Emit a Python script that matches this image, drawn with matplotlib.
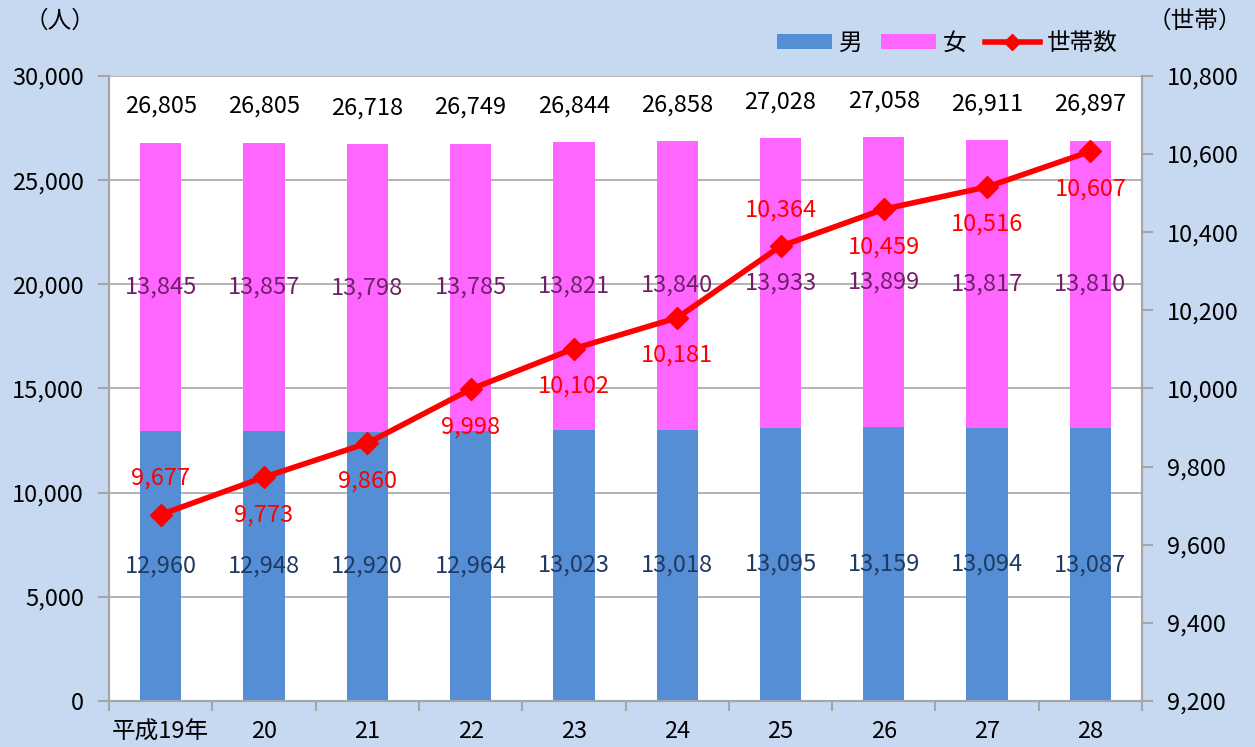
import matplotlib
matplotlib.use("Agg")
import matplotlib.pyplot as plt
from matplotlib.patches import Patch
from matplotlib.lines import Line2D
import numpy as np

plt.rcParams['font.family'] = ['Noto Sans CJK JP', 'DejaVu Sans']

years = ['平成19年', '20', '21', '22', '23', '24', '25', '26', '27', '28']
male = [12960, 12948, 12920, 12964, 13023, 13018, 13095, 13159, 13094, 13087]
female = [13845, 13857, 13798, 13785, 13821, 13840, 13933, 13899, 13817, 13810]
households = [9677, 9773, 9860, 9998, 10102, 10181, 10364, 10459, 10516, 10607]
hh_label_above = [True, False, False, False, False, False, True, False, False, False]

BG = '#C6D9F0'
BLUE = '#558ED5'
PINK = '#FF66FF'
RED = '#FF0000'
GRID = '#A6A6A6'
FS = 17

fig = plt.figure(figsize=(12.55, 7.47), dpi=100, facecolor=BG)
ax = fig.add_axes([0.0869, 0.0616, 0.8231, 0.8367])
ax.set_facecolor('white')

x = np.arange(len(years))
totals = [m + f for m, f in zip(male, female)]
w = 0.4
ax.bar(x, male, width=w, color=BLUE, zorder=2)
ax.bar(x, female, width=w, bottom=male, color=PINK, zorder=2)

ax.set_xlim(-0.5, len(years) - 0.5)
ax.set_ylim(0, 30000)
ax.set_yticks(np.arange(0, 30001, 5000))
ax.set_yticklabels([f'{v:,}' for v in range(0, 30001, 5000)], fontsize=FS)
ax.yaxis.grid(True, color=GRID, linewidth=1.2, zorder=0)
ax.set_axisbelow(True)
ax.set_xticks(x)
ax.set_xticklabels(years, fontsize=FS)
ax.set_xticks(np.arange(-0.5, len(years), 1), minor=True)
ax.tick_params(axis='x', which='major', length=0, pad=14)
ax.tick_params(axis='x', which='minor', length=7, color=GRID, width=1.5, direction='out')
ax.tick_params(axis='y', length=8, color=GRID, width=1.5, pad=10)
for s in ['left', 'bottom', 'right', 'top']:
    ax.spines[s].set_color(GRID)
    ax.spines[s].set_linewidth(1.5)
ax.spines['top'].set_visible(False)

for i in range(len(years)):
    ax.annotate(f'{totals[i]:,}', (x[i], totals[i]), xytext=(0, 26), textcoords='offset points',
                ha='center', va='center', fontsize=FS, color='black')
    ax.text(x[i], male[i] + female[i] / 2, f'{female[i]:,}', ha='center', va='center',
            fontsize=FS, color='#70206A', zorder=3)
    ax.text(x[i], male[i] / 2, f'{male[i]:,}', ha='center', va='center',
            fontsize=FS, color='#1F3B63', zorder=3)

ax2 = ax.twinx()
ax2.set_ylim(9200, 10800)
ax2.set_yticks(np.arange(9200, 10801, 200))
ax2.set_yticklabels([f'{v:,}' for v in range(9200, 10801, 200)], fontsize=FS)
ax2.tick_params(axis='y', length=8, color=GRID, width=1.5, pad=10)
for s in ['left', 'bottom', 'right', 'top']:
    ax2.spines[s].set_color(GRID)
    ax2.spines[s].set_linewidth(1.5)
ax2.spines['top'].set_visible(False)
ax2.plot(x, households, color=RED, linewidth=4, marker='D', markersize=11, zorder=4)
for i in range(len(years)):
    off = 26 if hh_label_above[i] else -27
    ax2.annotate(f'{households[i]:,}', (x[i], households[i]), xytext=(0, off),
                 textcoords='offset points', ha='center', va='center', fontsize=FS, color=RED)

fig.text(0.048, 0.972, '（人）', ha='center', va='center', fontsize=FS)
fig.text(0.952, 0.972, '（世帯）', ha='center', va='center', fontsize=FS)

handles = [Patch(facecolor=BLUE, edgecolor='none'),
           Patch(facecolor=PINK, edgecolor='none'),
           Line2D([0], [0], color=RED, linewidth=4, marker='D', markersize=8)]
fig.legend(handles, ['男', '女', '世帯数'], loc='center', bbox_to_anchor=(0.755, 0.942), ncol=3,
           frameon=False, fontsize=FS, handlelength=2.3, handleheight=0.55,
           handletextpad=0.3, columnspacing=0.8)

fig.savefig('out.png', dpi=100, facecolor=BG)
